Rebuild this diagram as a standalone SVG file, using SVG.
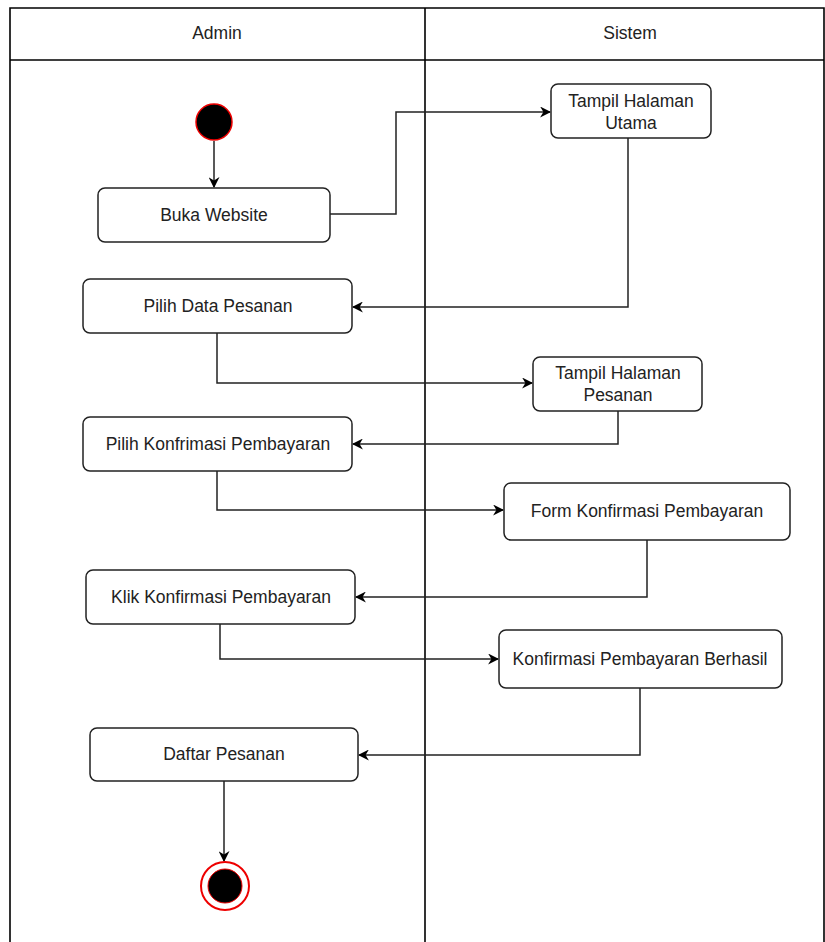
<svg xmlns="http://www.w3.org/2000/svg" width="825" height="942" viewBox="0 0 825 942">
<defs>
<style>
.lane{fill:none;stroke:#000;stroke-width:1.6}
.node rect{fill:#fff;stroke:#222;stroke-width:1.5}
.t{font-family:"Liberation Sans",Arial,sans-serif;font-size:17.5px;fill:#222;text-anchor:middle;dominant-baseline:central}
.c{fill:none;stroke:#222;stroke-width:1.5}
</style>
<marker id="arr" viewBox="0 0 10 10" refX="9" refY="5" markerWidth="11" markerHeight="11" markerUnits="userSpaceOnUse" orient="auto">
<path d="M0,0 L10,5 L0,10 L3,5 Z" fill="#000"/>
</marker>
</defs>
<rect width="825" height="942" fill="#fff"/>
<g id="lanes">
<path class="lane" d="M10,942 V8 H824 V942 M10,60 H824 M425,8 V942"/>
<text class="t" x="217" y="33">Admin</text>
<text class="t" x="630" y="33">Sistem</text>
</g>
<g id="connectors">
<path class="c" d="M214,141 V187" marker-end="url(#arr)"/>
<path class="c" d="M330,214 H396 V112 H550" marker-end="url(#arr)"/>
<path class="c" d="M628,138 V307 H353" marker-end="url(#arr)"/>
<path class="c" d="M217,333 V383 H532" marker-end="url(#arr)"/>
<path class="c" d="M618,411 V444 H353" marker-end="url(#arr)"/>
<path class="c" d="M217,471 V510 H503" marker-end="url(#arr)"/>
<path class="c" d="M647,540 V597 H356" marker-end="url(#arr)"/>
<path class="c" d="M220,624 V659 H498" marker-end="url(#arr)"/>
<path class="c" d="M640,688 V755 H359" marker-end="url(#arr)"/>
<path class="c" d="M224,781 V861" marker-end="url(#arr)"/>
</g>
<g id="start"><circle cx="214" cy="122" r="18" fill="#000" stroke="#e00" stroke-width="1.5"/></g>
<g id="n1" class="node"><rect x="98" y="188" width="232" height="54" rx="7"/><text class="t" x="214" y="215">Buka Website</text></g>
<g id="n2" class="node"><rect x="551" y="84" width="160" height="54" rx="7"/><text class="t" x="631" y="101">Tampil Halaman</text><text class="t" x="631" y="123">Utama</text></g>
<g id="n3" class="node"><rect x="83" y="279" width="269" height="54" rx="7"/><text class="t" x="218" y="306">Pilih Data Pesanan</text></g>
<g id="n4" class="node"><rect x="533" y="357" width="169" height="54" rx="7"/><text class="t" x="618" y="373">Tampil Halaman</text><text class="t" x="618" y="395">Pesanan</text></g>
<g id="n5" class="node"><rect x="83" y="417" width="269" height="54" rx="7"/><text class="t" x="218" y="444">Pilih Konfrimasi Pembayaran</text></g>
<g id="n6" class="node"><rect x="504" y="483" width="286" height="57" rx="7"/><text class="t" x="647" y="511">Form Konfirmasi Pembayaran</text></g>
<g id="n7" class="node"><rect x="86" y="570" width="269" height="54" rx="7"/><text class="t" x="221" y="597">Klik Konfirmasi Pembayaran</text></g>
<g id="n8" class="node"><rect x="499" y="630" width="283" height="58" rx="7"/><text class="t" x="640" y="659">Konfirmasi Pembayaran Berhasil</text></g>
<g id="n9" class="node"><rect x="90" y="728" width="268" height="53" rx="7"/><text class="t" x="224" y="754">Daftar Pesanan</text></g>
<g id="end">
<circle cx="225" cy="886" r="24" fill="#fff" stroke="#e00" stroke-width="2"/>
<circle cx="225" cy="886" r="17" fill="#000" stroke="#e00" stroke-width="1"/>
</g>
</svg>
